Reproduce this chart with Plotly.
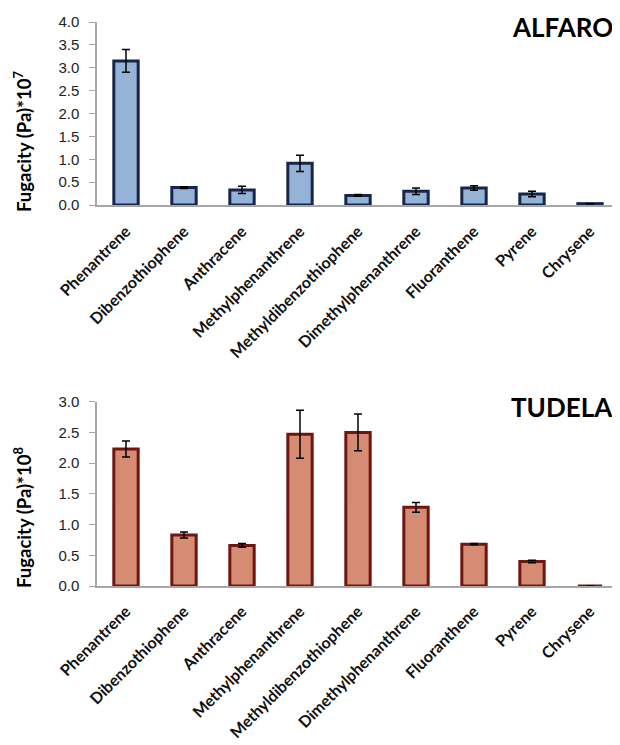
import plotly.graph_objects as go

categories = ["Phenantrene", "Dibenzothiophene", "Anthracene", "Methylphenanthrene",
              "Methyldibenzothiophene", "Dimethylphenanthrene", "Fluoranthene", "Pyrene", "Chrysene"]

alfaro_values = [3.15, 0.38, 0.33, 0.91, 0.21, 0.30, 0.37, 0.24, 0.03]
alfaro_errors = [0.25, 0.02, 0.08, 0.18, 0.02, 0.07, 0.05, 0.06, 0.0]

tudela_values = [2.23, 0.83, 0.66, 2.47, 2.50, 1.28, 0.68, 0.40, 0.0]
tudela_errors = [0.13, 0.05, 0.03, 0.39, 0.30, 0.08, 0.01, 0.02, 0.0]

y_ticks_top = [0.0, 0.5, 1.0, 1.5, 2.0, 2.5, 3.0, 3.5, 4.0]
y_ticks_bottom = [0.0, 0.5, 1.0, 1.5, 2.0, 2.5, 3.0]

# The page body has an 8px margin, so the figure is sized to fit the window.
W, H = 612, 737
OFF = 8
L, R, T = 89, 1, 14
B = H - (586 - OFF)

fig = go.Figure()

fig.add_trace(go.Bar(
    x=categories, y=alfaro_values, xaxis="x", yaxis="y",
    marker=dict(color="#95B3D7", line=dict(color="#17254A", width=3)),
    error_y=dict(type="data", array=alfaro_errors, color="black", thickness=1.5, width=4),
    showlegend=False,
))
fig.add_trace(go.Bar(
    x=categories, y=tudela_values, xaxis="x2", yaxis="y2",
    marker=dict(color="#D68B73", line=dict(color="#701510", width=3)),
    error_y=dict(type="data", array=tudela_errors, color="black", thickness=1.5, width=4),
    showlegend=False,
))

tick_font = dict(family="Liberation Sans, Arial", size=15, color="#222")
cat_font = dict(family="Lato", size=16, color="#111", weight="bold")
axis_common = dict(showline=True, linecolor="#A6A6A6", linewidth=1.5, showgrid=False,
                   zeroline=False, automargin=False)

plot_w = W - L - R
plot_h = H - T - B
def px_x(px):
    return (px - OFF - L) / plot_w
def px_y(py):
    return (H - B - (py - OFF)) / plot_h

top_dom = [px_y(205), 1]
bot_dom = [0, px_y(401.7)]

fig.update_layout(
    width=W, height=H,
    margin=dict(l=L, r=R, t=T, b=B),
    paper_bgcolor="white", plot_bgcolor="white",
    bargap=0.58,
    xaxis=dict(domain=[0, 1], anchor="y", tickangle=-45, tickfont=cat_font, ticks="",
               ticklabelstandoff=9, **axis_common),
    yaxis=dict(domain=top_dom, anchor="x", range=[0, 4.0], tickvals=y_ticks_top,
               ticktext=[f"{v:.1f}" for v in y_ticks_top], ticks="outside", ticklen=6,
               tickcolor="#A6A6A6", tickfont=tick_font, ticklabelstandoff=7, **axis_common),
    xaxis2=dict(domain=[0, 1], anchor="y2", tickangle=-45, tickfont=cat_font, ticks="",
                ticklabelstandoff=8, **axis_common),
    yaxis2=dict(domain=bot_dom, anchor="x2", range=[0, 3.0], tickvals=y_ticks_bottom,
                ticktext=[f"{v:.1f}" for v in y_ticks_bottom], ticks="outside", ticklen=6,
                tickcolor="#A6A6A6", tickfont=tick_font, ticklabelstandoff=7, **axis_common),
    annotations=[
        dict(text="<b>ALFARO</b>", x=px_x(615), y=px_y(27), xref="paper", yref="paper",
             xanchor="right", yanchor="middle", showarrow=False,
             font=dict(family="Lato", size=26, color="black")),
        dict(text="<b>TUDELA</b>", x=px_x(615), y=px_y(407), xref="paper", yref="paper",
             xanchor="right", yanchor="middle", showarrow=False,
             font=dict(family="Lato", size=26, color="black")),
        dict(text="<b>Fugacity (Pa)*10<sup>7</sup></b>", textangle=-90, x=px_x(22), y=px_y(142),
             xref="paper", yref="paper", xanchor="center", yanchor="middle", showarrow=False,
             font=dict(family="Lato", size=18.5, color="black")),
        dict(text="<b>Fugacity (Pa)*10<sup>8</sup></b>", textangle=-90, x=px_x(22), y=px_y(518),
             xref="paper", yref="paper", xanchor="center", yanchor="middle", showarrow=False,
             font=dict(family="Lato", size=18.5, color="black")),
    ],
)

fig.write_html("out.html")
